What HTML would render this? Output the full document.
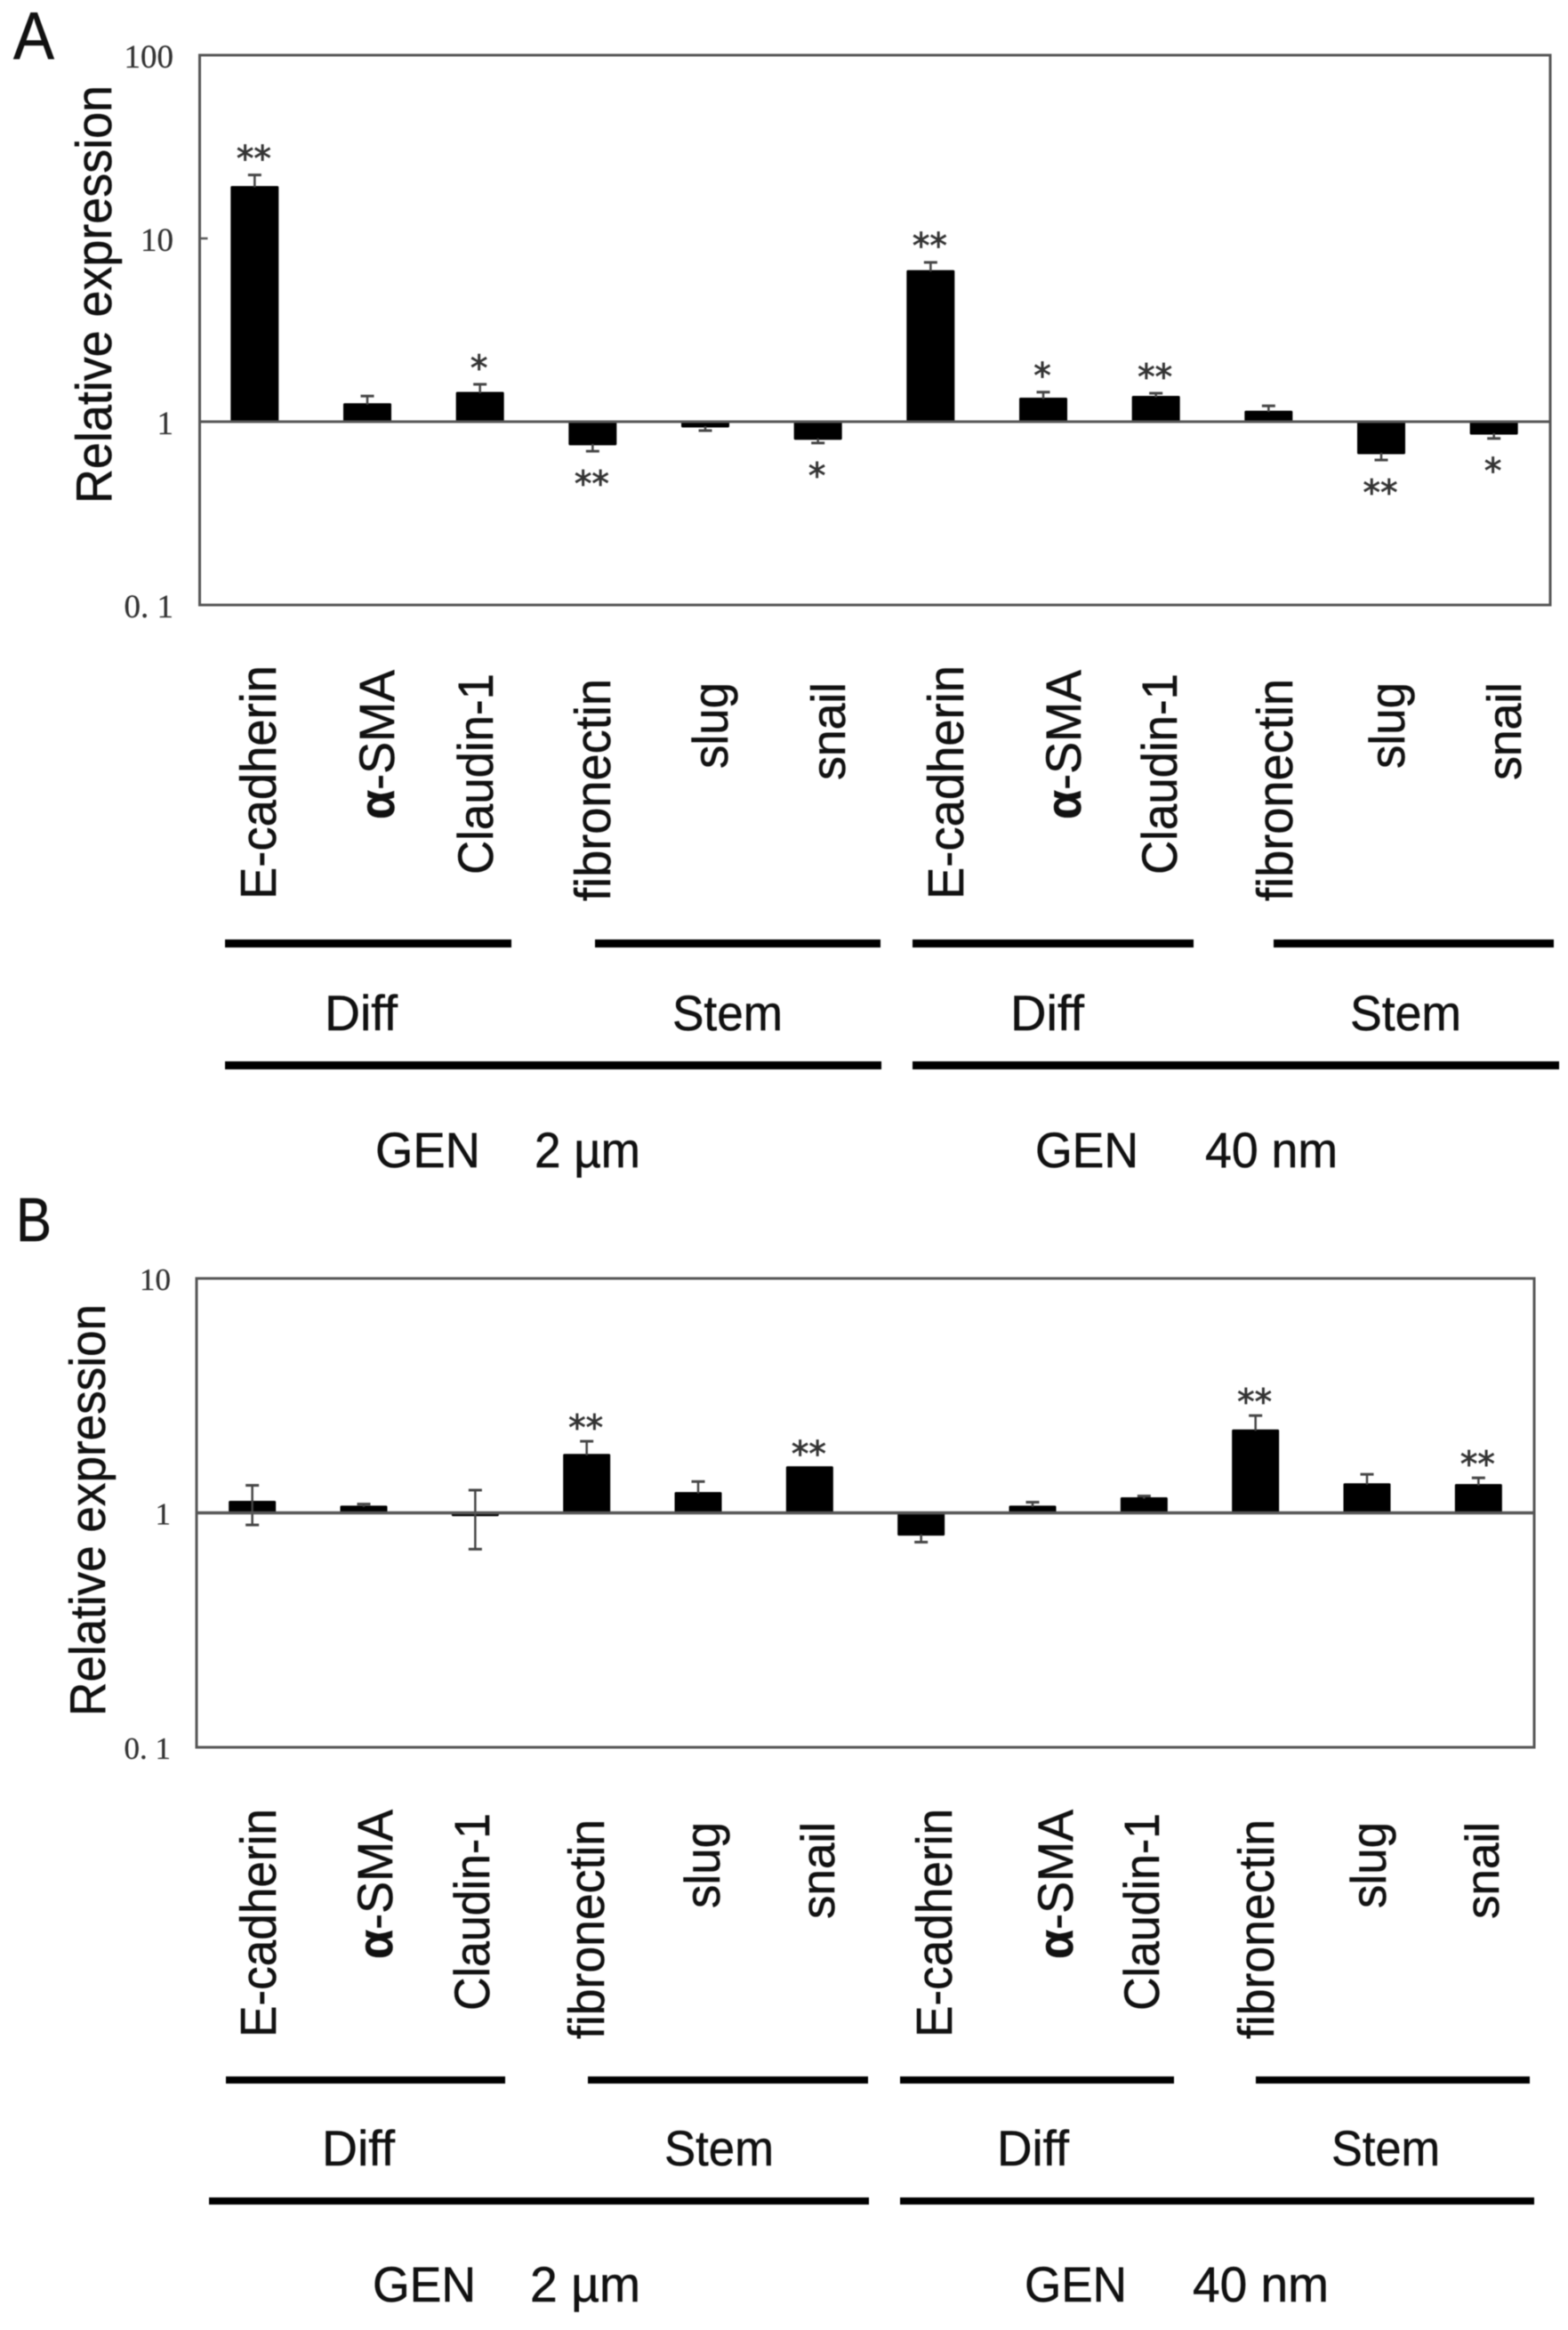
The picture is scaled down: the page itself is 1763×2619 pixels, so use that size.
<!DOCTYPE html>
<html>
<head>
<meta charset="utf-8">
<title>Relative expression charts</title>
<style>
html,body{margin:0;padding:0;background:#fff;}
svg{display:block;filter:blur(0.45px);}
.s{font-family:"Liberation Sans",Arial,sans-serif;fill:#111;stroke:#111;stroke-width:0.5px;}
.t{font-family:"Liberation Serif",serif;fill:#333;stroke:#333;stroke-width:0.3px;}
</style>
</head>
<body>
<svg id="fig" xmlns="http://www.w3.org/2000/svg" width="1763" height="2619" viewBox="0 0 1763 2619">
  <rect width="1763" height="2619" fill="#fff"/>

  <text class="s" x="15" y="66" font-size="75" textLength="46" lengthAdjust="spacingAndGlyphs">A</text>
  <text class="s" x="18" y="1395" font-size="70" textLength="40" lengthAdjust="spacingAndGlyphs">B</text>

  <text class="s" x="125" y="566" font-size="57" textLength="470" lengthAdjust="spacingAndGlyphs" transform="rotate(-90 125 566)">Relative expression</text>
  <text class="s" x="118" y="1929" font-size="57" textLength="463" lengthAdjust="spacingAndGlyphs" transform="rotate(-90 118 1929)">Relative expression</text>

  <g>
    <text class="s" font-size="57" x="310" y="1011" transform="rotate(-90 310 1011)" textLength="263" lengthAdjust="spacingAndGlyphs">E-cadherin</text>
    <text class="s" font-size="56" x="443" y="921" transform="rotate(-90 443 921)" textLength="168" lengthAdjust="spacingAndGlyphs"><tspan font-weight="bold">α</tspan>-SMA</text>
    <text class="s" font-size="56" x="554" y="983" transform="rotate(-90 554 983)" textLength="226" lengthAdjust="spacingAndGlyphs">Claudin-1</text>
    <text class="s" font-size="57" x="686" y="1013" transform="rotate(-90 686 1013)" textLength="250" lengthAdjust="spacingAndGlyphs">fibronectin</text>
    <text class="s" font-size="56" x="818" y="864" transform="rotate(-90 818 864)" textLength="97" lengthAdjust="spacingAndGlyphs">slug</text>
    <text class="s" font-size="54" x="950" y="877" transform="rotate(-90 950 877)" textLength="110">snail</text>
    <text class="s" font-size="57" x="1083" y="1011" transform="rotate(-90 1083 1011)" textLength="263" lengthAdjust="spacingAndGlyphs">E-cadherin</text>
    <text class="s" font-size="56" x="1215" y="921" transform="rotate(-90 1215 921)" textLength="168" lengthAdjust="spacingAndGlyphs"><tspan font-weight="bold">α</tspan>-SMA</text>
    <text class="s" font-size="56" x="1323" y="983" transform="rotate(-90 1323 983)" textLength="226" lengthAdjust="spacingAndGlyphs">Claudin-1</text>
    <text class="s" font-size="57" x="1453" y="1013" transform="rotate(-90 1453 1013)" textLength="250" lengthAdjust="spacingAndGlyphs">fibronectin</text>
    <text class="s" font-size="56" x="1579" y="864" transform="rotate(-90 1579 864)" textLength="97" lengthAdjust="spacingAndGlyphs">slug</text>
    <text class="s" font-size="54" x="1710" y="877" transform="rotate(-90 1710 877)" textLength="110">snail</text>
  </g>

  <g fill="#000">
    <rect x="253" y="1056" width="322" height="9"/>
    <rect x="669" y="1056" width="321" height="9"/>
    <rect x="1026" y="1056" width="316" height="9"/>
    <rect x="1432" y="1056" width="315" height="9"/>
    <rect x="253" y="1193" width="738" height="9"/>
    <rect x="1026" y="1193" width="727" height="9"/>
  </g>
  <g>
    <text class="s" font-size="56" x="365" y="1158" textLength="82" lengthAdjust="spacingAndGlyphs">Diff</text>
    <text class="s" font-size="56" x="756" y="1158" textLength="124" lengthAdjust="spacingAndGlyphs">Stem</text>
    <text class="s" font-size="56" x="1136" y="1158" textLength="83" lengthAdjust="spacingAndGlyphs">Diff</text>
    <text class="s" font-size="56" x="1518" y="1158" textLength="125" lengthAdjust="spacingAndGlyphs">Stem</text>
    <text class="s" font-size="56" x="422" y="1312" textLength="118" lengthAdjust="spacingAndGlyphs">GEN</text>
    <text class="s" font-size="56" x="601" y="1312" textLength="119" lengthAdjust="spacingAndGlyphs">2 µm</text>
    <text class="s" font-size="56" x="1164" y="1312" textLength="116" lengthAdjust="spacingAndGlyphs">GEN</text>
    <text class="s" font-size="56" x="1355" y="1312" textLength="149" lengthAdjust="spacingAndGlyphs">40 nm</text>
  </g>

  <g>
    <text class="s" font-size="57" x="310" y="2290" transform="rotate(-90 310 2290)" textLength="257" lengthAdjust="spacingAndGlyphs">E-cadherin</text>
    <text class="s" font-size="56" x="441" y="2202" transform="rotate(-90 441 2202)" textLength="168" lengthAdjust="spacingAndGlyphs"><tspan font-weight="bold">α</tspan>-SMA</text>
    <text class="s" font-size="56" x="550" y="2260" transform="rotate(-90 550 2260)" textLength="222" lengthAdjust="spacingAndGlyphs">Claudin-1</text>
    <text class="s" font-size="57" x="679" y="2292" transform="rotate(-90 679 2292)" textLength="247" lengthAdjust="spacingAndGlyphs">fibronectin</text>
    <text class="s" font-size="56" x="809" y="2145" transform="rotate(-90 809 2145)" textLength="97" lengthAdjust="spacingAndGlyphs">slug</text>
    <text class="s" font-size="53" x="938" y="2157" transform="rotate(-90 938 2157)" textLength="109">snail</text>
    <text class="s" font-size="57" x="1070" y="2290" transform="rotate(-90 1070 2290)" textLength="257" lengthAdjust="spacingAndGlyphs">E-cadherin</text>
    <text class="s" font-size="56" x="1206" y="2202" transform="rotate(-90 1206 2202)" textLength="168" lengthAdjust="spacingAndGlyphs"><tspan font-weight="bold">α</tspan>-SMA</text>
    <text class="s" font-size="56" x="1303" y="2260" transform="rotate(-90 1303 2260)" textLength="222" lengthAdjust="spacingAndGlyphs">Claudin-1</text>
    <text class="s" font-size="57" x="1432" y="2292" transform="rotate(-90 1432 2292)" textLength="247" lengthAdjust="spacingAndGlyphs">fibronectin</text>
    <text class="s" font-size="56" x="1558" y="2145" transform="rotate(-90 1558 2145)" textLength="97" lengthAdjust="spacingAndGlyphs">slug</text>
    <text class="s" font-size="53" x="1685" y="2157" transform="rotate(-90 1685 2157)" textLength="109">snail</text>
  </g>

  <g fill="#000">
    <rect x="254" y="2334" width="314" height="8"/>
    <rect x="661" y="2334" width="315" height="8"/>
    <rect x="1012" y="2334" width="308" height="8"/>
    <rect x="1412" y="2334" width="308" height="8"/>
    <rect x="235" y="2470" width="742" height="8"/>
    <rect x="1012" y="2470" width="713" height="8"/>
  </g>
  <g>
    <text class="s" font-size="56" x="362" y="2434" textLength="82" lengthAdjust="spacingAndGlyphs">Diff</text>
    <text class="s" font-size="56" x="747" y="2434" textLength="123" lengthAdjust="spacingAndGlyphs">Stem</text>
    <text class="s" font-size="56" x="1121" y="2434" textLength="81" lengthAdjust="spacingAndGlyphs">Diff</text>
    <text class="s" font-size="56" x="1497" y="2434" textLength="122" lengthAdjust="spacingAndGlyphs">Stem</text>
    <text class="s" font-size="56" x="419" y="2587" textLength="116" lengthAdjust="spacingAndGlyphs">GEN</text>
    <text class="s" font-size="56" x="596" y="2587" textLength="124" lengthAdjust="spacingAndGlyphs">2 µm</text>
    <text class="s" font-size="56" x="1152" y="2587" textLength="115" lengthAdjust="spacingAndGlyphs">GEN</text>
    <text class="s" font-size="56" x="1341" y="2587" textLength="153" lengthAdjust="spacingAndGlyphs">40 nm</text>
  </g>
</svg>

<script>
const categories = ['E-cadherin 2um','a-SMA 2um','Claudin-1 2um','fibronectin 2um','slug 2um','snail 2um','E-cadherin 40nm','a-SMA 40nm','Claudin-1 40nm','fibronectin 40nm','slug 40nm','snail 40nm'];

const ticksA = [100, 10, 1, 0.1];
const tickLabelsA = ['100', '10', '1', '0. 1'];
const valuesA = [19.0, 1.24, 1.43, 0.756, 0.946, 0.81, 6.6, 1.33, 1.36, 1.13, 0.676, 0.865];
const errHighA = [22.2, 1.38, 1.6, null, null, null, 7.4, 1.45, 1.43, 1.22, null, null];
const errLowA = [null, null, null, 0.69, 0.894, 0.765, null, null, null, null, 0.618, 0.81];
const starsA = ['**', '', '*', '**', '', '*', '**', '*', '**', '', '**', '*'];

const ticksB = [10, 1, 0.1];
const tickLabelsB = ['10', '1', '0. 1'];
const valuesB = [1.11, 1.06, 0.98, 1.76, 1.21, 1.56, 0.81, 1.06, 1.15, 2.24, 1.32, 1.31];
const errHighB = [1.31, 1.09, 1.25, 2.02, 1.36, null, null, 1.11, 1.18, 2.6, 1.46, 1.41];
const errLowB = [0.888, null, 0.70, null, null, null, 0.75, null, null, null, null, null];
const starsB = ['', '', '', '**', '', '**', '', '', '', '**', '', '**'];

const NS = 'http://www.w3.org/2000/svg';
const fig = document.getElementById('fig');

function mk(tag, attrs, parent) {
  const el = document.createElementNS(NS, tag);
  for (const k in attrs) el.setAttribute(k, attrs[k]);
  parent.appendChild(el);
  return el;
}

function drawPanel(p) {
  const logMax = Math.log10(p.ticks[0]);
  const logMin = Math.log10(p.ticks[p.ticks.length - 1]);
  const y = v => p.top + (logMax - Math.log10(v)) / (logMax - logMin) * (p.bottom - p.top);
  const step = (p.right - p.bandLeft) / p.categories.length;
  const x = i => p.bandLeft + (i + 0.5) * step;
  const base = y(1);

  const g = mk('g', {}, fig);
  
  

  p.categories.forEach((c, i) => {
    const v = p.values[i];
    const cx = x(i);
    const vy = y(v);
    const bar = mk('rect', {
      x: cx - p.barW / 2 + 1, y: Math.min(vy, base), width: p.barW - 2,
      height: Math.abs(vy - base), fill: '#000', stroke: '#000',
      'stroke-width': 3, 'stroke-linejoin': 'round'
    }, g);
    
    

    [p.errHigh[i], p.errLow[i]].forEach((e) => {
      if (e === null) return;
      const ey = y(e);
      const stem = mk('line', { x1: cx, x2: cx, y1: vy, y2: ey, stroke: '#444', 'stroke-width': 2.5 }, g);
      
      
      const cap = mk('line', { x1: cx - 7.5, x2: cx + 7.5, y1: ey, y2: ey, stroke: '#444', 'stroke-width': 3 }, g);
      
      
    });

    if (p.stars[i]) {
      const down = v < 1;
      const end = down ? (p.errLow[i] === null ? vy : y(p.errLow[i])) : (p.errHigh[i] === null ? vy : y(p.errHigh[i]));
      const centre = down ? end + p.starGapDown : end - p.starGapUp;
      const star = mk('text', {
        x: cx - 1, y: centre + 19.8, 'text-anchor': 'middle', 'font-size': 39,
        'font-family': '"DejaVu Sans", sans-serif', fill: '#333', stroke: '#333', 'stroke-width': 0.8
      }, g);
      
      
      star.textContent = p.stars[i];
    }
  });

  const frame = mk('rect', {
    x: p.left, y: p.top, width: p.right - p.left, height: p.bottom - p.top,
    fill: 'none', stroke: '#555', 'stroke-width': 3
  }, g);
  
  

  const baseline = mk('line', { x1: p.left, x2: p.right, y1: base, y2: base, stroke: '#555', 'stroke-width': p.baseW }, g);
  
  

  p.ticks.forEach((t, i) => {
    const label = mk('text', {
      class: 't', x: p.tickRight, y: y(t) + p.tickDy, 'text-anchor': 'end', 'font-size': p.tickFs
    }, g);
    
    
    label.textContent = p.tickLabels[i];
    if (p.tickMarks.includes(t)) {
      const mark = mk('line', { x1: p.left, x2: p.left + 9, y1: y(t), y2: y(t), stroke: '#555', 'stroke-width': 2.5 }, g);
      
      
    }
  });
}

drawPanel({
  id: 'panel-a', categories: categories, ticks: ticksA, tickLabels: tickLabelsA,
  values: valuesA, errHigh: errHighA, errLow: errLowA, stars: starsA,
  left: 224.5, right: 1743, bandLeft: 223, top: 62, bottom: 680, barW: 53, baseW: 3,
  tickRight: 195, tickDy: 14, tickFs: 37, tickMarks: [10], starGapUp: 25, starGapDown: 30
});

drawPanel({
  id: 'panel-b', categories: categories, ticks: ticksB, tickLabels: tickLabelsB,
  values: valuesB, errHigh: errHighB, errLow: errLowB, stars: starsB,
  left: 221, right: 1725, bandLeft: 221, top: 1437, bottom: 1964, barW: 52, baseW: 3.5,
  tickRight: 192, tickDy: 13, tickFs: 35, tickMarks: [], starGapUp: 22, starGapDown: 22
});
</script>
</body>
</html>
